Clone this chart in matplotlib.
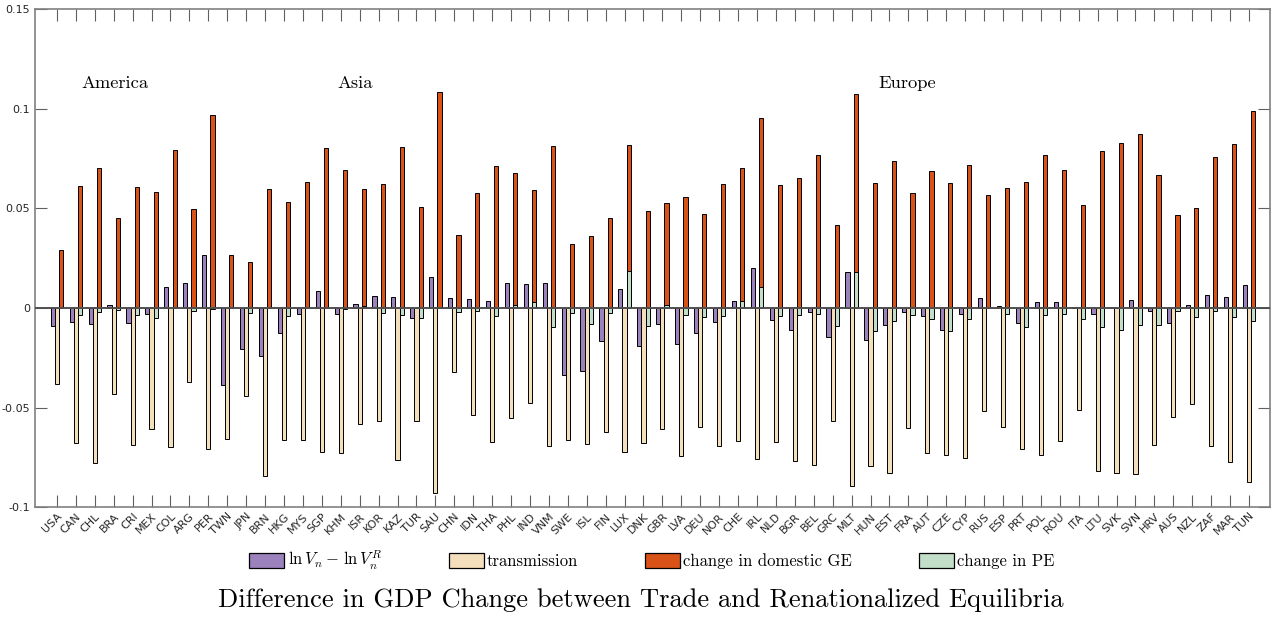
import matplotlib.pyplot as plt
import numpy as np
from matplotlib.patches import Patch

countries = ['USA', 'CAN', 'CHL', 'BRA', 'CRI', 'MEX', 'COL', 'ARG', 'PER', 'TWN',
             'JPN', 'BRN', 'HKG', 'MYS', 'SGP', 'KHM', 'ISR', 'KOR', 'KAZ', 'TUR',
             'SAU', 'CHN', 'IDN', 'THA', 'PHL', 'IND', 'VNM', 'SWE', 'ISL', 'FIN',
             'LUX', 'DNK', 'GBR', 'LVA', 'DEU', 'NOR', 'CHE', 'IRL', 'NLD', 'BGR',
             'BEL', 'GRC', 'MLT', 'HUN', 'EST', 'FRA', 'AUT', 'CZE', 'CYP', 'RUS',
             'ESP', 'PRT', 'POL', 'ROU', 'ITA', 'LTU', 'SVK', 'SVN', 'HRV', 'AUS',
             'NZL', 'ZAF', 'MAR', 'TUN']

# ln V_n - ln V_n^R
welfare = [-0.0090, -0.0068, -0.0078, 0.0017, -0.0075, -0.0028, 0.0104, 0.0125, 0.0264, -0.0387,
           -0.0205, -0.0240, -0.0128, -0.0028, 0.0083, -0.0031, 0.0019, 0.0061, 0.0056, -0.0052,
           0.0158, 0.0052, 0.0043, 0.0036, 0.0127, 0.0120, 0.0125, -0.0337, -0.0318, -0.0165,
           0.0095, -0.0191, -0.0078, -0.0182, -0.0123, -0.0069, 0.0036, 0.0201, -0.0059, -0.0111,
           -0.0019, -0.0148, 0.0181, -0.0160, -0.0087, -0.0019, -0.0038, -0.0108, -0.0028, 0.0050,
           0.0009, -0.0073, 0.0030, 0.0031, 0.0005, -0.0028, 0.0003, 0.0040, -0.0017, -0.0076,
           0.0014, 0.0066, 0.0057, 0.0118]

transmission = [-0.0380, -0.0680, -0.0780, -0.0430, -0.0686, -0.0610, -0.0696, -0.0370, -0.0708, -0.0656,
                -0.0440, -0.0844, -0.0663, -0.0661, -0.0722, -0.0727, -0.0580, -0.0568, -0.0764, -0.0566,
                -0.0929, -0.0320, -0.0535, -0.0675, -0.0552, -0.0476, -0.0691, -0.0665, -0.0682, -0.0622,
                -0.0722, -0.0680, -0.0609, -0.0743, -0.0597, -0.0694, -0.0670, -0.0759, -0.0675, -0.0769,
                -0.0788, -0.0568, -0.0896, -0.0792, -0.0828, -0.0602, -0.0726, -0.0738, -0.0753, -0.0519,
                -0.0597, -0.0708, -0.0738, -0.0667, -0.0512, -0.0818, -0.0828, -0.0833, -0.0686, -0.0545,
                -0.0484, -0.0693, -0.0771, -0.0875]

domestic_ge = [0.0290, 0.0613, 0.0703, 0.0450, 0.0610, 0.0580, 0.0795, 0.0495, 0.0970, 0.0264,
               0.0233, 0.0600, 0.0533, 0.0632, 0.0802, 0.0691, 0.0600, 0.0623, 0.0810, 0.0509,
               0.1087, 0.0368, 0.0576, 0.0712, 0.0677, 0.0595, 0.0813, 0.0321, 0.0363, 0.0453,
               0.0816, 0.0488, 0.0528, 0.0559, 0.0470, 0.0623, 0.0703, 0.0955, 0.0616, 0.0653,
               0.0769, 0.0418, 0.1073, 0.0628, 0.0738, 0.0578, 0.0686, 0.0628, 0.0720, 0.0566,
               0.0604, 0.0632, 0.0766, 0.0694, 0.0517, 0.0786, 0.0830, 0.0872, 0.0667, 0.0465,
               0.0500, 0.0759, 0.0821, 0.0991]

pe = [0.0005, -0.0035, -0.0020, -0.0010, -0.0033, -0.0052, 0.0005, -0.0015, -0.0005, 0.0,
      -0.0024, 0.0, -0.0038, 0.0, 0.0, -0.0005, 0.0008, -0.0023, -0.0033, -0.0049,
      0.0, -0.0019, -0.0014, -0.0042, 0.0014, 0.0031, -0.0095, -0.0026, -0.0078, -0.0023,
      0.0188, -0.0089, 0.0014, -0.0033, -0.0045, -0.0038, 0.0036, 0.0106, -0.0042, -0.0033,
      -0.0028, -0.0089, 0.0182, -0.0116, -0.0063, -0.0033, -0.0056, -0.0115, -0.0056, 0.0,
      -0.0028, -0.0095, -0.0036, -0.0028, -0.0057, -0.0097, -0.0111, -0.0083, -0.0083, -0.0017,
      -0.0045, -0.0017, -0.0043, -0.0063]

labels = [r'$\ln V_n - \,\ln V_n^R$', 'transmission', 'change in domestic GE', 'change in PE']
colors = ['#9c82bd', '#f4dfbc', '#d95319', '#c2dec8']

plt.rcParams['mathtext.fontset'] = 'cm'

fig = plt.figure(figsize=(12.81, 6.17), dpi=100)
ax = fig.add_axes([0.0273, 0.178, 0.9641, 0.807])

x = np.arange(1, len(countries) + 1)
w = 0.22
ec = dict(edgecolor='black', linewidth=0.7)
ax.bar(x - w, welfare, w, color=colors[0], **ec, zorder=2)
ax.bar(x, transmission, w, color=colors[1], **ec, zorder=2)
ax.bar(x + w, domestic_ge, w, color=colors[2], **ec, zorder=2)
ax.bar(x + w, pe, w, color=colors[3], **ec, zorder=3)
ax.axhline(0, color='#505050', lw=1.4, zorder=4)

ax.set_xlim(-0.16, 65.11)
ax.set_ylim(-0.1, 0.15)
ax.set_xticks(x)
ax.set_xticklabels(countries, rotation=45, ha='right', rotation_mode='anchor',
                   fontsize=8, color='#262626')
yt = [-0.1, -0.05, 0, 0.05, 0.1, 0.15]
ax.set_yticks(yt)
ax.set_yticklabels(['-0.1', '-0.05', '0', '0.05', '0.1', '0.15'], fontsize=8, color='#262626')
ax.tick_params(axis='both', direction='in', length=8.6, width=0.8, color='#606060',
               top=True, right=True)
ax.tick_params(axis='x', pad=3)
for s in ax.spines.values():
    s.set_color('#808080')
    s.set_linewidth(1.2)

ax.text(2.32, 0.113, 'America', family='cmr10', fontsize=13.3, va='center', ha='left')
ax.text(15.8, 0.113, 'Asia', family='cmr10', fontsize=13.3, va='center', ha='left')
ax.text(44.4, 0.113, 'Europe', family='cmr10', fontsize=13.3, va='center', ha='left')

handles = [Patch(facecolor=c, edgecolor='black', linewidth=0.9) for c in colors]
leg = fig.legend(handles, labels, loc='center', bbox_to_anchor=(0.509, 0.091), ncol=4,
                 frameon=False, handlelength=2.1, handleheight=1.0, handletextpad=0.2,
                 columnspacing=4.0, prop={'family': 'cmr10', 'size': 12})

fig.text(0.5, 0.027, 'Difference in GDP Change between Trade and Renationalized Equilibria',
         family='cmr10', fontsize=19.1, ha='center', va='center')

fig.savefig('out.png', dpi=100)
